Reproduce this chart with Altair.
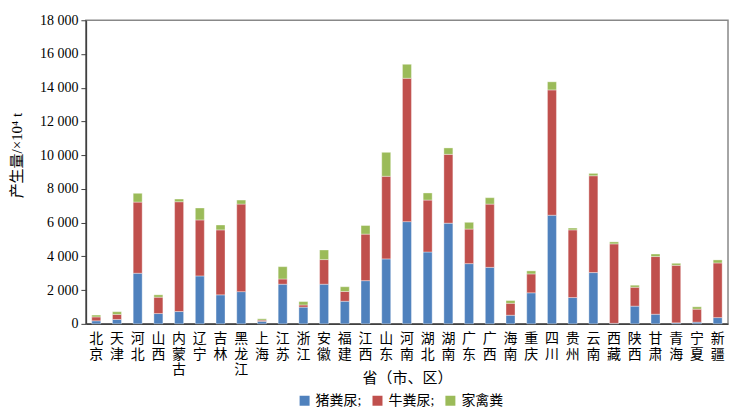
import altair as alt
import pandas as pd

provinces = ['北京', '天津', '河北', '山西', '内蒙古', '辽宁', '吉林', '黑龙江', '上海', '江苏',
             '浙江', '安徽', '福建', '江西', '山东', '河南', '湖北', '湖南', '广东', '广西',
             '海南', '重庆', '四川', '贵州', '云南', '西藏', '陕西', '甘肃', '青海', '宁夏', '新疆']
pig = [180, 260, 3000, 610, 730, 2840, 1720, 1910, 150, 2350,
       990, 2350, 1340, 2560, 3850, 6060, 4260, 5970, 3570, 3350,
       510, 1840, 6440, 1560, 3040, 30, 1050, 570, 60, 100, 370]
cattle = [230, 300, 4220, 970, 6510, 3320, 3850, 5190, 70, 310,
          130, 1460, 580, 2760, 4900, 8500, 3080, 4080, 2050, 3750,
          710, 1120, 7430, 4010, 5740, 4710, 1120, 3420, 3410, 770, 3240]
poultry = [110, 160, 520, 140, 160, 710, 290, 240, 80, 730,
           200, 570, 280, 510, 1420, 830, 420, 380, 400, 380,
           160, 180, 480, 110, 140, 120, 120, 150, 120, 140, 180]

series = ['猪粪尿', '牛粪尿', '家禽粪']
colors = ['#4F81BD', '#C0504D', '#9BBB59']

rows = []
for i, p in enumerate(provinces):
    for k, (name, vals) in enumerate(zip(series, [pig, cattle, poultry])):
        rows.append({'省': p, '类别': name, '值': vals[i], 'ord': k})
df = pd.DataFrame(rows)

FONT = 'Liberation Serif, Noto Sans CJK SC'

chart = alt.Chart(df).mark_bar(size=9, stroke='white', strokeWidth=0.6, strokeOpacity=0.6).encode(
    x=alt.X('省:N', sort=provinces,
            scale=alt.Scale(paddingInner=0, paddingOuter=0),
            axis=alt.Axis(title='省（市、区）', labelAngle=0, ticks=False,
                          labelExpr="split(datum.label, '')",
                          labelBaseline='top', labelLineHeight=15.5,
                          labelFontSize=14, labelPadding=8, labelColor='#000',
                          titleFontSize=15, titleFontWeight='normal', titleColor='#000',
                          titleY=54, titleBaseline='middle',
                          domainColor='#404040', domainWidth=1.5)),
    y=alt.Y('值:Q', stack='zero',
            scale=alt.Scale(domain=[0, 18000], nice=False),
            axis=alt.Axis(title='产生量/×10⁴ t', values=list(range(0, 18001, 2000)),
                          labelExpr="replace(format(datum.value, ','), ',', ' ')",
                          labelFontSize=14, labelColor='#000', labelPadding=3,
                          tickSize=5, tickColor='#404040', grid=False,
                          titleFontSize=15, titleFontWeight='normal', titleColor='#000',
                          titleY=135, titlePadding=15,
                          domainColor='#404040', domainWidth=1.5)),
    color=alt.Color('类别:N', sort=series,
                    scale=alt.Scale(domain=series, range=colors),
                    legend=alt.Legend(title=None, orient='none', direction='horizontal',
                                      legendX=212, legendY=374,
                                      symbolType='square', symbolSize=100,
                                      symbolStrokeWidth=0, symbolOpacity=1,
                                      labelFontSize=14, labelColor='#000',
                                      columnPadding=9,
                                      labelExpr="datum.label == '家禽粪' ? datum.label : datum.label + ';'")),
    order=alt.Order('ord:Q', sort='ascending'),
).properties(
    width=643, height=304,
    autosize=alt.AutoSizeParams(type='none'),
    padding={'left': 78, 'top': 12, 'right': 6, 'bottom': 90},
).configure(font=FONT).configure_view(stroke='#888888', strokeWidth=1.5)

chart.save('out.html', embed_options={'renderer': 'svg', 'actions': False})
